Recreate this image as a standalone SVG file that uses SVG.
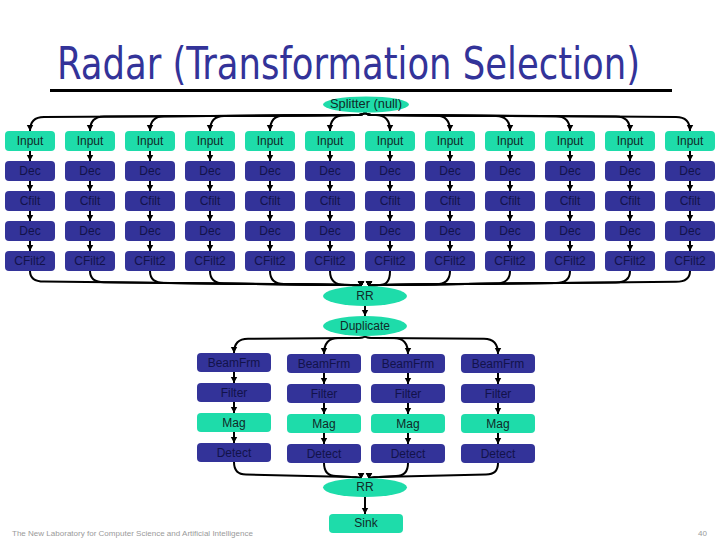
<svg xmlns="http://www.w3.org/2000/svg" width="720" height="540" viewBox="0 0 720 540">
<style>
.bg{fill:#ffffff}
.t{fill:#1edcaa}
.n{fill:#333399}
.lt{font-family:"Liberation Sans","DejaVu Sans",sans-serif;font-size:12px;text-anchor:middle;dominant-baseline:central}
.lt.on-t{fill:#102a28}
.lt.on-n{fill:#12124a}
.c{fill:none;stroke:#000;stroke-width:2;marker-end:url(#ah)}
.title{font-family:"DejaVu Sans Condensed","Liberation Sans Narrow","Liberation Sans",sans-serif;font-size:44px;fill:#333399}
.foot{font-family:"Liberation Sans","DejaVu Sans",sans-serif;font-size:8px;fill:#9a9a9a}
</style>
<defs>
<marker id="ah" markerUnits="userSpaceOnUse" markerWidth="8" markerHeight="8" refX="6" refY="4" orient="auto">
<path d="M0,0.8 L6,4 L0,7.2 z" fill="#000"/>
</marker>
</defs>
<rect class="bg" x="0" y="0" width="720" height="540"/>
<g id="title">
<text class="title" x="57" y="79" textLength="583" lengthAdjust="spacingAndGlyphs">Radar (Transformation Selection)</text>
<line x1="50" y1="90.5" x2="672" y2="90.5" stroke="#000" stroke-width="3"/>
</g>

<g id="connectors">
<!-- splitter fan-out -->
<path class="c" d="M365,112 Q365,115 355,115 L44,117 Q30,117 30,131"/>
<path class="c" d="M365,112 Q365,115 355,115 L104,116.6 Q90,116.6 90,131"/>
<path class="c" d="M365,112 Q365,115 355,115 L164,116.3 Q150,116.3 150,131"/>
<path class="c" d="M365,112 Q365,115 355,115 L224,115.9 Q210,115.9 210,131"/>
<path class="c" d="M365,112 Q365,115 355,115 L284,115.6 Q270,115.6 270,131"/>
<path class="c" d="M365,112 Q365,115 355,115 L344,115.2 Q330,115.2 330,131"/>
<path class="c" d="M365,112 Q365,115 375,115 L376,115.1 Q390,115.1 390,131"/>
<path class="c" d="M365,112 Q365,115 375,115 L436,115.5 Q450,115.5 450,131"/>
<path class="c" d="M365,112 Q365,115 375,115 L496,115.9 Q510,115.9 510,131"/>
<path class="c" d="M365,112 Q365,115 375,115 L556,116.2 Q570,116.2 570,131"/>
<path class="c" d="M365,112 Q365,115 375,115 L616,116.6 Q630,116.6 630,131"/>
<path class="c" d="M365,112 Q365,115 375,115 L676,116.9 Q690,116.9 690,131"/>
<!-- column arrows -->
<g id="col-arrows">
<line class="c" x1="30" y1="151" x2="30" y2="161"/><line class="c" x1="30" y1="181" x2="30" y2="191"/><line class="c" x1="30" y1="211" x2="30" y2="221"/><line class="c" x1="30" y1="241" x2="30" y2="251"/>
<line class="c" x1="90" y1="151" x2="90" y2="161"/><line class="c" x1="90" y1="181" x2="90" y2="191"/><line class="c" x1="90" y1="211" x2="90" y2="221"/><line class="c" x1="90" y1="241" x2="90" y2="251"/>
<line class="c" x1="150" y1="151" x2="150" y2="161"/><line class="c" x1="150" y1="181" x2="150" y2="191"/><line class="c" x1="150" y1="211" x2="150" y2="221"/><line class="c" x1="150" y1="241" x2="150" y2="251"/>
<line class="c" x1="210" y1="151" x2="210" y2="161"/><line class="c" x1="210" y1="181" x2="210" y2="191"/><line class="c" x1="210" y1="211" x2="210" y2="221"/><line class="c" x1="210" y1="241" x2="210" y2="251"/>
<line class="c" x1="270" y1="151" x2="270" y2="161"/><line class="c" x1="270" y1="181" x2="270" y2="191"/><line class="c" x1="270" y1="211" x2="270" y2="221"/><line class="c" x1="270" y1="241" x2="270" y2="251"/>
<line class="c" x1="330" y1="151" x2="330" y2="161"/><line class="c" x1="330" y1="181" x2="330" y2="191"/><line class="c" x1="330" y1="211" x2="330" y2="221"/><line class="c" x1="330" y1="241" x2="330" y2="251"/>
<line class="c" x1="390" y1="151" x2="390" y2="161"/><line class="c" x1="390" y1="181" x2="390" y2="191"/><line class="c" x1="390" y1="211" x2="390" y2="221"/><line class="c" x1="390" y1="241" x2="390" y2="251"/>
<line class="c" x1="450" y1="151" x2="450" y2="161"/><line class="c" x1="450" y1="181" x2="450" y2="191"/><line class="c" x1="450" y1="211" x2="450" y2="221"/><line class="c" x1="450" y1="241" x2="450" y2="251"/>
<line class="c" x1="510" y1="151" x2="510" y2="161"/><line class="c" x1="510" y1="181" x2="510" y2="191"/><line class="c" x1="510" y1="211" x2="510" y2="221"/><line class="c" x1="510" y1="241" x2="510" y2="251"/>
<line class="c" x1="570" y1="151" x2="570" y2="161"/><line class="c" x1="570" y1="181" x2="570" y2="191"/><line class="c" x1="570" y1="211" x2="570" y2="221"/><line class="c" x1="570" y1="241" x2="570" y2="251"/>
<line class="c" x1="630" y1="151" x2="630" y2="161"/><line class="c" x1="630" y1="181" x2="630" y2="191"/><line class="c" x1="630" y1="211" x2="630" y2="221"/><line class="c" x1="630" y1="241" x2="630" y2="251"/>
<line class="c" x1="690" y1="151" x2="690" y2="161"/><line class="c" x1="690" y1="181" x2="690" y2="191"/><line class="c" x1="690" y1="211" x2="690" y2="221"/><line class="c" x1="690" y1="241" x2="690" y2="251"/>
</g>
<!-- join into RR -->
<path class="c" d="M30,271 Q30,281.6 44,281.6 L351,285 Q361,285 361,287"/>
<path class="c" d="M90,271 Q90,282.2 104,282.2 L351,285 Q361,285 361,287"/>
<path class="c" d="M150,271 Q150,282.9 164,282.9 L351,285 Q361,285 361,287"/>
<path class="c" d="M210,271 Q210,283.4 224,283.4 L351,285 Q361,285 361,287"/>
<path class="c" d="M270,271 Q270,284 284,284 L351,285 Q361,285 361,287"/>
<path class="c" d="M330,271 Q330,285 345,285 Q361,285 361,287"/>
<path class="c" d="M390,271 Q390,285 380,285 Q369,285 369,287"/>
<path class="c" d="M450,271 Q450,284.2 436,284.2 L379,285 Q369,285 369,287"/>
<path class="c" d="M510,271 Q510,283.6 496,283.6 L379,285 Q369,285 369,287"/>
<path class="c" d="M570,271 Q570,283 556,283 L379,285 Q369,285 369,287"/>
<path class="c" d="M630,271 Q630,282.4 616,282.4 L379,285 Q369,285 369,287"/>
<path class="c" d="M690,271 Q690,281.8 676,281.8 L379,285 Q369,285 369,287"/>
<!-- RR to Duplicate -->
<line class="c" x1="365" y1="306" x2="365" y2="316"/>
<!-- Duplicate fan-out -->
<path class="c" d="M365,336 Q365,338 355,338 L248,338.8 Q234,338.8 234,353"/>
<path class="c" d="M365,336 Q365,338 355,338 L338,338 Q324,338 324,354"/>
<path class="c" d="M365,336 Q365,338 375,338 L394,338 Q408,338 408,354"/>
<path class="c" d="M365,336 Q365,338 375,338 L484,338.8 Q498,338.8 498,354"/>
<!-- beam column arrows -->
<line class="c" x1="234" y1="372" x2="234" y2="383"/><line class="c" x1="234" y1="402" x2="234" y2="413"/><line class="c" x1="234" y1="432" x2="234" y2="443"/>
<line class="c" x1="324" y1="373" x2="324" y2="384"/><line class="c" x1="324" y1="403" x2="324" y2="414"/><line class="c" x1="324" y1="433" x2="324" y2="444"/>
<line class="c" x1="408" y1="373" x2="408" y2="384"/><line class="c" x1="408" y1="403" x2="408" y2="414"/><line class="c" x1="408" y1="433" x2="408" y2="444"/>
<line class="c" x1="498" y1="373" x2="498" y2="384"/><line class="c" x1="498" y1="403" x2="498" y2="414"/><line class="c" x1="498" y1="433" x2="498" y2="444"/>
<!-- join into RR2 -->
<path class="c" d="M234,462 Q234,474.5 246,474.5 L351,477 Q361,477 361,479"/>
<path class="c" d="M324,463 Q324,476 336,476 L351,477 Q361,477 361,479"/>
<path class="c" d="M408,463 Q408,476 396,476 L379,477 Q369,477 369,479"/>
<path class="c" d="M498,463 Q498,474.5 486,474.5 L379,477 Q369,477 369,479"/>
<!-- RR2 to Sink -->
<line class="c" x1="365" y1="497" x2="365" y2="514"/>
</g>

<g id="splitter"><ellipse class="t" cx="366" cy="104.5" rx="43" ry="8"/><text class="lt on-t" x="366" y="104" textLength="72" lengthAdjust="spacingAndGlyphs">Splitter (null)</text></g>

<g id="input-0"><rect class="t" x="5" y="131" width="50" height="20" rx="4"/><text class="lt on-t" x="30" y="141">Input</text></g>
<g id="input-1"><rect class="t" x="65" y="131" width="50" height="20" rx="4"/><text class="lt on-t" x="90" y="141">Input</text></g>
<g id="input-2"><rect class="t" x="125" y="131" width="50" height="20" rx="4"/><text class="lt on-t" x="150" y="141">Input</text></g>
<g id="input-3"><rect class="t" x="185" y="131" width="50" height="20" rx="4"/><text class="lt on-t" x="210" y="141">Input</text></g>
<g id="input-4"><rect class="t" x="245" y="131" width="50" height="20" rx="4"/><text class="lt on-t" x="270" y="141">Input</text></g>
<g id="input-5"><rect class="t" x="305" y="131" width="50" height="20" rx="4"/><text class="lt on-t" x="330" y="141">Input</text></g>
<g id="input-6"><rect class="t" x="365" y="131" width="50" height="20" rx="4"/><text class="lt on-t" x="390" y="141">Input</text></g>
<g id="input-7"><rect class="t" x="425" y="131" width="50" height="20" rx="4"/><text class="lt on-t" x="450" y="141">Input</text></g>
<g id="input-8"><rect class="t" x="485" y="131" width="50" height="20" rx="4"/><text class="lt on-t" x="510" y="141">Input</text></g>
<g id="input-9"><rect class="t" x="545" y="131" width="50" height="20" rx="4"/><text class="lt on-t" x="570" y="141">Input</text></g>
<g id="input-10"><rect class="t" x="605" y="131" width="50" height="20" rx="4"/><text class="lt on-t" x="630" y="141">Input</text></g>
<g id="input-11"><rect class="t" x="665" y="131" width="50" height="20" rx="4"/><text class="lt on-t" x="690" y="141">Input</text></g>

<g id="dec1-0"><rect class="n" x="5" y="161" width="50" height="20" rx="4"/><text class="lt on-n" x="30" y="171">Dec</text></g>
<g id="dec1-1"><rect class="n" x="65" y="161" width="50" height="20" rx="4"/><text class="lt on-n" x="90" y="171">Dec</text></g>
<g id="dec1-2"><rect class="n" x="125" y="161" width="50" height="20" rx="4"/><text class="lt on-n" x="150" y="171">Dec</text></g>
<g id="dec1-3"><rect class="n" x="185" y="161" width="50" height="20" rx="4"/><text class="lt on-n" x="210" y="171">Dec</text></g>
<g id="dec1-4"><rect class="n" x="245" y="161" width="50" height="20" rx="4"/><text class="lt on-n" x="270" y="171">Dec</text></g>
<g id="dec1-5"><rect class="n" x="305" y="161" width="50" height="20" rx="4"/><text class="lt on-n" x="330" y="171">Dec</text></g>
<g id="dec1-6"><rect class="n" x="365" y="161" width="50" height="20" rx="4"/><text class="lt on-n" x="390" y="171">Dec</text></g>
<g id="dec1-7"><rect class="n" x="425" y="161" width="50" height="20" rx="4"/><text class="lt on-n" x="450" y="171">Dec</text></g>
<g id="dec1-8"><rect class="n" x="485" y="161" width="50" height="20" rx="4"/><text class="lt on-n" x="510" y="171">Dec</text></g>
<g id="dec1-9"><rect class="n" x="545" y="161" width="50" height="20" rx="4"/><text class="lt on-n" x="570" y="171">Dec</text></g>
<g id="dec1-10"><rect class="n" x="605" y="161" width="50" height="20" rx="4"/><text class="lt on-n" x="630" y="171">Dec</text></g>
<g id="dec1-11"><rect class="n" x="665" y="161" width="50" height="20" rx="4"/><text class="lt on-n" x="690" y="171">Dec</text></g>

<g id="cfilt-0"><rect class="n" x="5" y="191" width="50" height="20" rx="4"/><text class="lt on-n" x="30" y="201">Cfilt</text></g>
<g id="cfilt-1"><rect class="n" x="65" y="191" width="50" height="20" rx="4"/><text class="lt on-n" x="90" y="201">Cfilt</text></g>
<g id="cfilt-2"><rect class="n" x="125" y="191" width="50" height="20" rx="4"/><text class="lt on-n" x="150" y="201">Cfilt</text></g>
<g id="cfilt-3"><rect class="n" x="185" y="191" width="50" height="20" rx="4"/><text class="lt on-n" x="210" y="201">Cfilt</text></g>
<g id="cfilt-4"><rect class="n" x="245" y="191" width="50" height="20" rx="4"/><text class="lt on-n" x="270" y="201">Cfilt</text></g>
<g id="cfilt-5"><rect class="n" x="305" y="191" width="50" height="20" rx="4"/><text class="lt on-n" x="330" y="201">Cfilt</text></g>
<g id="cfilt-6"><rect class="n" x="365" y="191" width="50" height="20" rx="4"/><text class="lt on-n" x="390" y="201">Cfilt</text></g>
<g id="cfilt-7"><rect class="n" x="425" y="191" width="50" height="20" rx="4"/><text class="lt on-n" x="450" y="201">Cfilt</text></g>
<g id="cfilt-8"><rect class="n" x="485" y="191" width="50" height="20" rx="4"/><text class="lt on-n" x="510" y="201">Cfilt</text></g>
<g id="cfilt-9"><rect class="n" x="545" y="191" width="50" height="20" rx="4"/><text class="lt on-n" x="570" y="201">Cfilt</text></g>
<g id="cfilt-10"><rect class="n" x="605" y="191" width="50" height="20" rx="4"/><text class="lt on-n" x="630" y="201">Cfilt</text></g>
<g id="cfilt-11"><rect class="n" x="665" y="191" width="50" height="20" rx="4"/><text class="lt on-n" x="690" y="201">Cfilt</text></g>

<g id="dec2-0"><rect class="n" x="5" y="221" width="50" height="20" rx="4"/><text class="lt on-n" x="30" y="231">Dec</text></g>
<g id="dec2-1"><rect class="n" x="65" y="221" width="50" height="20" rx="4"/><text class="lt on-n" x="90" y="231">Dec</text></g>
<g id="dec2-2"><rect class="n" x="125" y="221" width="50" height="20" rx="4"/><text class="lt on-n" x="150" y="231">Dec</text></g>
<g id="dec2-3"><rect class="n" x="185" y="221" width="50" height="20" rx="4"/><text class="lt on-n" x="210" y="231">Dec</text></g>
<g id="dec2-4"><rect class="n" x="245" y="221" width="50" height="20" rx="4"/><text class="lt on-n" x="270" y="231">Dec</text></g>
<g id="dec2-5"><rect class="n" x="305" y="221" width="50" height="20" rx="4"/><text class="lt on-n" x="330" y="231">Dec</text></g>
<g id="dec2-6"><rect class="n" x="365" y="221" width="50" height="20" rx="4"/><text class="lt on-n" x="390" y="231">Dec</text></g>
<g id="dec2-7"><rect class="n" x="425" y="221" width="50" height="20" rx="4"/><text class="lt on-n" x="450" y="231">Dec</text></g>
<g id="dec2-8"><rect class="n" x="485" y="221" width="50" height="20" rx="4"/><text class="lt on-n" x="510" y="231">Dec</text></g>
<g id="dec2-9"><rect class="n" x="545" y="221" width="50" height="20" rx="4"/><text class="lt on-n" x="570" y="231">Dec</text></g>
<g id="dec2-10"><rect class="n" x="605" y="221" width="50" height="20" rx="4"/><text class="lt on-n" x="630" y="231">Dec</text></g>
<g id="dec2-11"><rect class="n" x="665" y="221" width="50" height="20" rx="4"/><text class="lt on-n" x="690" y="231">Dec</text></g>

<g id="cfilt2-0"><rect class="n" x="5" y="251" width="50" height="20" rx="4"/><text class="lt on-n" x="30" y="261">CFilt2</text></g>
<g id="cfilt2-1"><rect class="n" x="65" y="251" width="50" height="20" rx="4"/><text class="lt on-n" x="90" y="261">CFilt2</text></g>
<g id="cfilt2-2"><rect class="n" x="125" y="251" width="50" height="20" rx="4"/><text class="lt on-n" x="150" y="261">CFilt2</text></g>
<g id="cfilt2-3"><rect class="n" x="185" y="251" width="50" height="20" rx="4"/><text class="lt on-n" x="210" y="261">CFilt2</text></g>
<g id="cfilt2-4"><rect class="n" x="245" y="251" width="50" height="20" rx="4"/><text class="lt on-n" x="270" y="261">CFilt2</text></g>
<g id="cfilt2-5"><rect class="n" x="305" y="251" width="50" height="20" rx="4"/><text class="lt on-n" x="330" y="261">CFilt2</text></g>
<g id="cfilt2-6"><rect class="n" x="365" y="251" width="50" height="20" rx="4"/><text class="lt on-n" x="390" y="261">CFilt2</text></g>
<g id="cfilt2-7"><rect class="n" x="425" y="251" width="50" height="20" rx="4"/><text class="lt on-n" x="450" y="261">CFilt2</text></g>
<g id="cfilt2-8"><rect class="n" x="485" y="251" width="50" height="20" rx="4"/><text class="lt on-n" x="510" y="261">CFilt2</text></g>
<g id="cfilt2-9"><rect class="n" x="545" y="251" width="50" height="20" rx="4"/><text class="lt on-n" x="570" y="261">CFilt2</text></g>
<g id="cfilt2-10"><rect class="n" x="605" y="251" width="50" height="20" rx="4"/><text class="lt on-n" x="630" y="261">CFilt2</text></g>
<g id="cfilt2-11"><rect class="n" x="665" y="251" width="50" height="20" rx="4"/><text class="lt on-n" x="690" y="261">CFilt2</text></g>

<g id="rr1"><ellipse class="t" cx="365" cy="296" rx="42" ry="10"/><text class="lt on-t" x="365" y="296">RR</text></g>
<g id="duplicate"><ellipse class="t" cx="365" cy="326" rx="42" ry="10"/><text class="lt on-t" x="365" y="326">Duplicate</text></g>

<g id="beamfrm-0"><rect class="n" x="197" y="353" width="74" height="19" rx="4"/><text class="lt on-n" x="234" y="362.5">BeamFrm</text></g>
<g id="beamfrm-1"><rect class="n" x="287" y="354" width="74" height="19" rx="4"/><text class="lt on-n" x="324" y="363.5">BeamFrm</text></g>
<g id="beamfrm-2"><rect class="n" x="371" y="354" width="74" height="19" rx="4"/><text class="lt on-n" x="408" y="363.5">BeamFrm</text></g>
<g id="beamfrm-3"><rect class="n" x="461" y="354" width="74" height="19" rx="4"/><text class="lt on-n" x="498" y="363.5">BeamFrm</text></g>

<g id="filter-0"><rect class="n" x="197" y="383" width="74" height="19" rx="4"/><text class="lt on-n" x="234" y="392.5">Filter</text></g>
<g id="filter-1"><rect class="n" x="287" y="384" width="74" height="19" rx="4"/><text class="lt on-n" x="324" y="393.5">Filter</text></g>
<g id="filter-2"><rect class="n" x="371" y="384" width="74" height="19" rx="4"/><text class="lt on-n" x="408" y="393.5">Filter</text></g>
<g id="filter-3"><rect class="n" x="461" y="384" width="74" height="19" rx="4"/><text class="lt on-n" x="498" y="393.5">Filter</text></g>

<g id="mag-0"><rect class="t" x="197" y="413" width="74" height="19" rx="4"/><text class="lt on-t" x="234" y="422.5">Mag</text></g>
<g id="mag-1"><rect class="t" x="287" y="414" width="74" height="19" rx="4"/><text class="lt on-t" x="324" y="423.5">Mag</text></g>
<g id="mag-2"><rect class="t" x="371" y="414" width="74" height="19" rx="4"/><text class="lt on-t" x="408" y="423.5">Mag</text></g>
<g id="mag-3"><rect class="t" x="461" y="414" width="74" height="19" rx="4"/><text class="lt on-t" x="498" y="423.5">Mag</text></g>

<g id="detect-0"><rect class="n" x="197" y="443" width="74" height="19" rx="4"/><text class="lt on-n" x="234" y="452.5">Detect</text></g>
<g id="detect-1"><rect class="n" x="287" y="444" width="74" height="19" rx="4"/><text class="lt on-n" x="324" y="453.5">Detect</text></g>
<g id="detect-2"><rect class="n" x="371" y="444" width="74" height="19" rx="4"/><text class="lt on-n" x="408" y="453.5">Detect</text></g>
<g id="detect-3"><rect class="n" x="461" y="444" width="74" height="19" rx="4"/><text class="lt on-n" x="498" y="453.5">Detect</text></g>

<g id="rr2"><ellipse class="t" cx="365" cy="487.5" rx="42" ry="9.5"/><text class="lt on-t" x="365" y="487">RR</text></g>
<g id="sink"><rect class="t" x="329" y="514" width="74" height="19" rx="4"/><text class="lt on-t" x="366" y="522.5">Sink</text></g>

<g id="footer">
<text class="foot" x="12" y="536" textLength="241" lengthAdjust="spacingAndGlyphs">The New Laboratory for Computer Science and Artificial Intelligence</text>
<text class="foot" x="698" y="536">40</text>
</g>
</svg>
